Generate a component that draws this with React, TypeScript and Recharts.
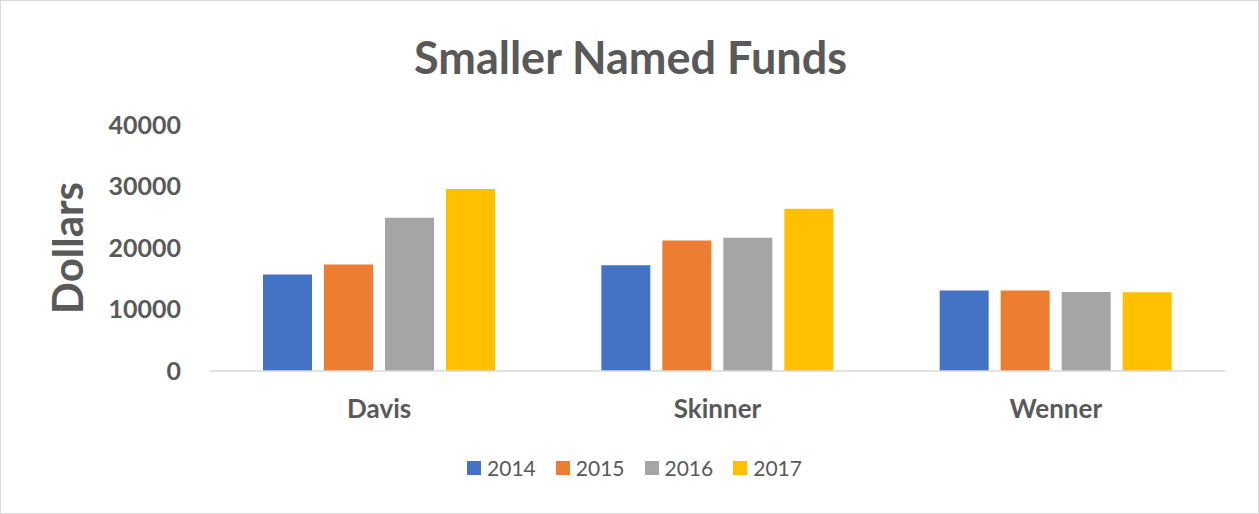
import React from 'react';
import { BarChart, Bar, XAxis, YAxis, Legend, Label } from 'recharts';

const categories = ['Davis', 'Skinner', 'Wenner'];
const series2014 = [15700, 17200, 13100];
const series2015 = [17300, 21200, 13100];
const series2016 = [24900, 21650, 12850];
const series2017 = [29600, 26400, 12800];
const yTicks = [0, 10000, 20000, 30000, 40000];
const seriesKeys = ['2014', '2015', '2016', '2017'];
const seriesColors = ['#4472C4', '#ED7D31', '#A5A5A5', '#FFC000'];
const seriesValues = [series2014, series2015, series2016, series2017];

const data = categories.map((name, i) => {
  const row: Record<string, string | number> = { name };
  seriesKeys.forEach((k, j) => {
    row[k] = seriesValues[j][i];
  });
  return row;
});

const FONT = 'Lato, "Open Sans", sans-serif';
const TEXT = '#595959';

const renderLegend = (props: any) => {
  const { payload } = props;
  return (
    <div style={{ display: 'flex', justifyContent: 'center', alignItems: 'center', fontFamily: FONT, fontSize: 21, color: TEXT, paddingLeft: 10 }}>
      {(payload || []).map((entry: any, idx: number) => (
        <div key={idx} style={{ display: 'flex', alignItems: 'center', marginRight: idx < 3 ? 20 : 0 }}>
          <span style={{ display: 'inline-block', width: 14, height: 14, background: entry.color, marginRight: 6 }} />
          <span>{entry.value}</span>
        </div>
      ))}
    </div>
  );
};

export default function App() {
  return (
    <div style={{ position: 'absolute', left: 0, top: 0, width: 1259, height: 514, background: '#fff', boxSizing: 'border-box', border: '1px solid #d9d9d9', fontFamily: FONT }}>
      <div style={{ position: 'absolute', left: 0, top: 26, width: 1259, textAlign: 'center', fontSize: 45, fontWeight: 700, color: TEXT, lineHeight: '60px' }}>
        Smaller Named Funds
      </div>
      <div style={{ position: 'absolute', left: -1, top: -1 }}>
        <BarChart width={1259} height={514} data={data} margin={{ top: 125, right: 34, bottom: 83, left: 0 }} barSize={49} barGap={12}>
          <XAxis dataKey="name" height={60} tickLine={false} tickSize={0} tickMargin={29} axisLine={{ stroke: '#d9d9d9', strokeWidth: 1.5 }} tick={{ fill: TEXT, fontSize: 26, fontWeight: 700, fontFamily: FONT }} />
          <YAxis width={210} domain={[0, 40000]} ticks={yTicks} axisLine={false} tickLine={false} tickSize={0} tickMargin={29} tick={{ fill: TEXT, fontSize: 25, fontWeight: 700, fontFamily: FONT }}>
            <Label value="Dollars" angle={-90} position="insideLeft" offset={0} dx={68} style={{ fill: TEXT, fontSize: 42, fontWeight: 700, fontFamily: FONT, textAnchor: 'middle' }} />
          </YAxis>
          <Legend verticalAlign="middle" align="center" layout="horizontal" wrapperStyle={{ top: 455, left: 0, width: 1259 }} content={renderLegend} />
          {seriesKeys.map((k, j) => (
            <Bar key={k} dataKey={k} fill={seriesColors[j]} isAnimationActive={false} />
          ))}
        </BarChart>
      </div>
    </div>
  );
}
